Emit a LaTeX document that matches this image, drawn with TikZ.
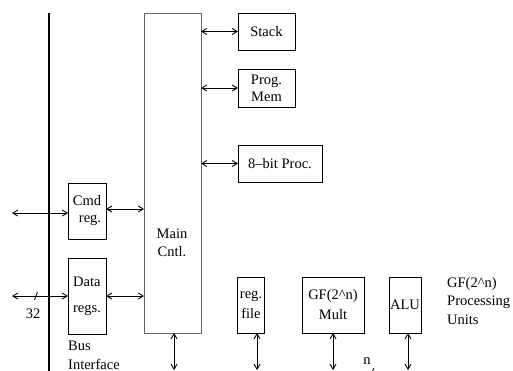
\documentclass[tikz,border=0pt]{standalone}
\usepackage{fontspec}
\setmainfont{Liberation Serif}
\usetikzlibrary{arrows.meta}
\begin{document}
\begin{tikzpicture}[x=1pt,y=-1pt,
  box/.style={draw=black,line width=0.9pt,inner sep=0pt,outer sep=0pt,
    font=\fontsize{14.5}{17}\selectfont,align=center},
  txt/.style={inner sep=0pt,font=\fontsize{14.5}{18.5}\selectfont},
  link/.style={line width=0.9pt,
    {Straight Barb[length=5pt,width=6pt]}-{Straight Barb[length=5pt,width=6pt]}},
  ]
\useasboundingbox (0,0) rectangle (513,371);
% bus line
\coordinate (busTop) at (49,13);
\coordinate (busBot) at (49,380);
\draw[line width=1.1pt] (busTop) -- (busBot);
% main controller
\node[box,draw=black!60,minimum width=57pt,minimum height=320pt] (main) at (172.5,173) {};
\node[txt,align=center] (maintxt) at (172,243) {Main\\Cntl.};
% right column
\node[box,minimum width=57pt,minimum height=37pt] (stack) at (266.5,31.5) {Stack};
\node[box,minimum width=57pt,minimum height=38pt] (prog) at (266.5,88) {Prog.\\Mem};
\node[box,minimum width=84pt,minimum height=37pt] (proc) at (280,163.5) {8--bit Proc.};
\draw[link] (stack.west -| main.east) -- (stack.west);
\draw[link] (prog.west -| main.east) -- (prog.west);
\draw[link] (proc.west -| main.east) -- (proc.west);
% bus interface
\node[box,minimum width=38pt,minimum height=56pt,align=right] (cmd) at (87,211) {Cmd\\reg.};
\node[box,minimum width=38pt,minimum height=76pt,align=left] (data) at (87,296) {Data\\[9pt]regs.};
\coordinate (cmdIn) at (12,213);
\coordinate (dataIn) at (12,296);
\draw[link] (cmdIn) -- (cmdIn -| cmd.west);
\draw[link] (cmd.east |- 0,209) -- (main.west |- 0,209);
\draw[link] (dataIn) -- (data.west);
\draw[link] (data.east) -- (data.east -| main.west);
\coordinate (s1) at (34.5,300);
\coordinate (s2) at (37.5,292);
\draw[line width=0.8pt] (s1) -- (s2);
\node[txt] (w32) at (33,314) {32};
\node[txt,align=left,anchor=north west] (busif) at (68,341) {Bus\\Interface};
% processing units
\node[box,minimum width=27pt,minimum height=56pt] (regf) at (251,305) {reg.\\[3pt]file};
\node[box,minimum width=62pt,minimum height=56pt] (mult) at (333,305) {GF(2\^{}n)\\[3pt]Mult};
\node[box,minimum width=32pt,minimum height=56pt] (alu) at (405,305) {ALU};
\node[txt,align=left,anchor=north west] (gfu) at (447,277) {GF(2\^{}n)\\Processing\\Units};
\coordinate (mainBot) at (174,370);
\coordinate (regfBot) at (257,370);
\coordinate (multBot) at (333,370);
\coordinate (aluBot) at (408,370);
\draw[link] (main.south -| mainBot) -- (mainBot);
\draw[link] (regf.south -| regfBot) -- (regfBot);
\draw[link] (mult.south) -- (multBot);
\draw[link] (alu.south -| aluBot) -- (aluBot);
\node[txt] (ntxt) at (367,361) {n};
\coordinate (n1) at (370,376);
\coordinate (n2) at (374,368);
\draw[line width=0.8pt] (n1) -- (n2);
\end{tikzpicture}
\end{document}
